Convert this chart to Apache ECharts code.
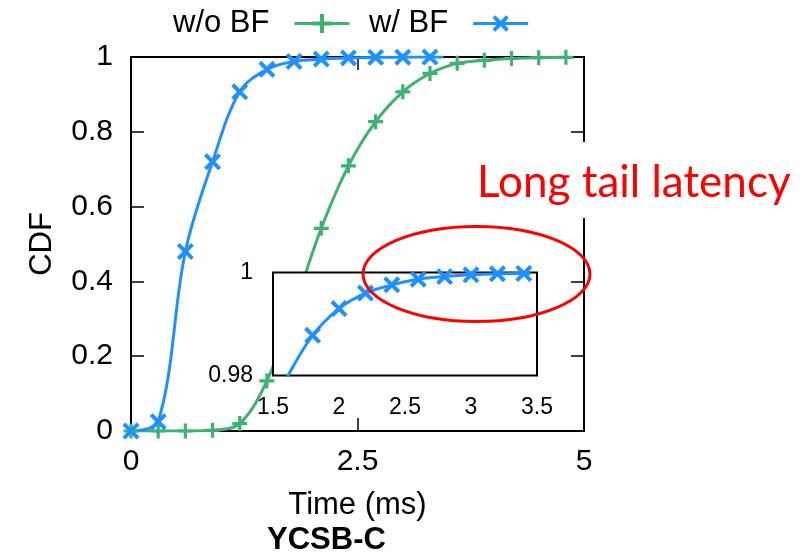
<!DOCTYPE html>
<html>
<head>
<meta charset="utf-8">
<script src="https://cdn.jsdelivr.net/npm/echarts@6/dist/echarts.min.js"></script>
<style>
html, body { margin: 0; padding: 0; background: #fff; }
#chart { width: 804px; height: 557px; }
</style>
</head>
<body>
<div id="chart"></div>
<script>
// values
const woBfTime = [0, 0.3, 0.6, 0.9, 1.2, 1.5, 1.8, 2.1, 2.4, 2.7, 3.0, 3.3, 3.6, 3.9, 4.2, 4.5, 4.8];
const woBfCdf  = [0, 0, 0, 0.002, 0.02, 0.134, 0.33, 0.542, 0.709, 0.827, 0.907, 0.956, 0.983, 0.991, 0.996, 0.998, 0.999];

const wBfTime = [0, 0.3, 0.6, 0.9, 1.2, 1.5, 1.8, 2.1, 2.4, 2.7, 3.0, 3.3, 3.45];
const wBfCdf  = [0, 0.025, 0.48, 0.72, 0.907, 0.967, 0.988, 0.9945, 0.9976, 0.999, 0.9996, 0.9998, 0.9998];
const wBfNoMark = [12];

// zoomed part (inset)
const zoomTime = [1.6, 1.8, 2.0, 2.2, 2.4, 2.6, 2.8, 3.0, 3.2, 3.4, 3.45];
const zoomCdf  = [0.9793, 0.9878, 0.9930, 0.9960, 0.9976, 0.9987, 0.9992, 0.99955, 0.99975, 0.9998, 0.9998];
const zoomNoMark = [0, 10];

const xTicks = [0, 2.5, 5];
const yTicks = [0, 0.2, 0.4, 0.6, 0.8, 1];

const font = 'Liberation Sans, Arial, Helvetica, sans-serif';
const green = '#3cb371', blue = '#1e90ff';
const plusPath = 'path://M-1.5,-7H1.5V-1.5H7V1.5H1.5V7H-1.5V1.5H-7V-1.5H-1.5Z';
const crossPath = 'path://M-2,-10H2V-2H10V2H2V10H-2V2H-10V-2H-2Z';

function pts(xs, ys, noMark) {
    return xs.map((x, i) => noMark.indexOf(i) >= 0 ? { value: [x, ys[i]], symbol: 'none' } : [x, ys[i]]);
}

let chart = echarts.init(document.getElementById('chart'));

let frameLine = { onZero: false, lineStyle: { color: '#000', width: 2 } };
let inTick = { inside: true, length: 13, lineStyle: { color: '#000', width: 1.5 } };
let nameStyle = { fontSize: 31, fontFamily: font, color: '#000' };

const option = {
    animation: false,
    title: {
        text: 'YCSB-C',
        left: 262, top: 520,
        textStyle: { fontSize: 31, fontWeight: 'bold', fontFamily: font, color: '#000' }
    },
    legend: {
        data: ['w/o BF', 'w/ BF'],
        left: 168, top: 3,
        align: 'right',
        itemWidth: 55, itemHeight: 24, itemGap: 18,
        selectedMode: false,
        lineStyle: { width: 3 },
        textStyle: { fontSize: 31, fontFamily: font, color: '#000', padding: [0, 20, 0, 0] }
    },
    grid: [
        { left: 131, top: 57, width: 453, height: 374, show: false },
        { left: 273, top: 272.5, width: 264, height: 103, show: true, backgroundColor: '#fff',
          borderColor: '#000', borderWidth: 2, z: 5 }
    ],
    xAxis: [
        { gridIndex: 0, type: 'value', min: xTicks[0], max: xTicks[2], interval: 2.5, position: 'bottom',
          axisLine: frameLine, axisTick: inTick, splitLine: { show: false },
          axisLabel: { color: '#000', fontSize: 30, fontFamily: font, margin: 16 },
          name: 'Time (ms)', nameLocation: 'middle', nameGap: 59, nameTextStyle: nameStyle },
        { gridIndex: 0, type: 'value', min: 0, max: 5, interval: 2.5, position: 'top',
          axisLine: frameLine, axisTick: inTick, splitLine: { show: false }, axisLabel: { show: false } },
        { gridIndex: 1, type: 'value', min: 1.5, max: 3.5, interval: 0.5, position: 'bottom', z: 6,
          axisLine: { show: false }, axisTick: { show: false }, splitLine: { show: false },
          axisLabel: { color: '#000', fontSize: 23, fontFamily: font, margin: 21 } }
    ],
    yAxis: [
        { gridIndex: 0, type: 'value', min: yTicks[0], max: yTicks[5], interval: 0.2, position: 'left',
          axisLine: frameLine, axisTick: inTick, splitLine: { show: false },
          axisLabel: { color: '#000', fontSize: 30, fontFamily: font, margin: 18 },
          name: 'CDF', nameLocation: 'middle', nameGap: 73, nameRotate: 90, nameTextStyle: nameStyle },
        { gridIndex: 0, type: 'value', min: 0, max: 1, interval: 0.2, position: 'right',
          axisLine: frameLine, axisTick: inTick, splitLine: { show: false }, axisLabel: { show: false } },
        { gridIndex: 1, type: 'value', min: 0.98, max: 1, interval: 0.02, position: 'left', z: 6,
          axisLine: { show: false }, axisTick: { show: false }, splitLine: { show: false },
          axisLabel: { color: '#000', fontSize: 23, fontFamily: font, margin: 20 } }
    ],
    series: [
        {
            name: 'w/o BF', type: 'line', xAxisIndex: 0, yAxisIndex: 0,
            smooth: 0.35, symbol: plusPath, symbolSize: 15,
            lineStyle: { color: green, width: 3 },
            itemStyle: { color: green },
            data: pts(woBfTime, woBfCdf, [])
        },
        {
            name: 'w/ BF', type: 'line', xAxisIndex: 0, yAxisIndex: 0,
            smooth: 0.35, symbol: crossPath, symbolSize: 20, symbolRotate: 45,
            lineStyle: { color: blue, width: 3 },
            itemStyle: { color: blue },
            data: pts(wBfTime, wBfCdf, wBfNoMark)
        },
        {
            name: 'zoom', type: 'line', xAxisIndex: 2, yAxisIndex: 2, z: 7,
            smooth: 0.35, clip: true, symbol: crossPath, symbolSize: 20, symbolRotate: 45,
            lineStyle: { color: blue, width: 3 },
            itemStyle: { color: blue },
            data: pts(zoomTime, zoomCdf, zoomNoMark)
        }
    ],
    graphic: [
        { type: 'text', left: 472, top: 142, z: 100,
          style: { text: 'Long tail latency', fill: '#ff0000', font: '44px Lato',
                   backgroundColor: '#fff', padding: [19, 5, 13, 5] } },
        { type: 'ellipse', z: 100, shape: { cx: 476.5, cy: 274, rx: 113.5, ry: 47.5 },
          style: { fill: null, stroke: '#ff0000', lineWidth: 3 } }
    ]
};
chart.setOption(option);
</script>
</body>
</html>
